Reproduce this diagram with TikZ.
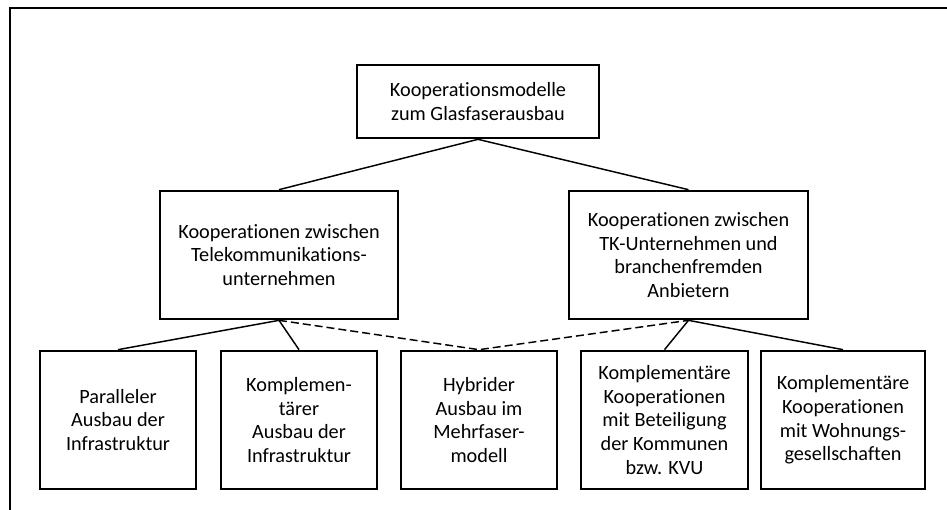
\documentclass[tikz,border=0pt]{standalone}
\usepackage{fontspec}
\setmainfont{Carlito}[Ligatures=NoCommon]
\tikzset{
  box/.style={draw, line width=2pt, inner sep=2pt, align=center, font=\fontsize{15.2}{17.8}\selectfont},
  link/.style={line width=1.1pt},
  dashlink/.style={line width=1.1pt, dash pattern=on 6pt off 3pt}
}
\begin{document}
\begin{tikzpicture}[x=0.75pt,y=0.75pt,yscale=-1,xscale=1]
\useasboundingbox (0,0) rectangle (947,510);

%Frame
\draw [line width=2.2pt]  (10,510) -- (10,8) -- (947,8) ;

% Text Node
\draw (478,101.5) node [box, minimum width=181.5pt, minimum height=54.75pt] (modelle) {Kooperationsmodelle\\zum Glasfaserausbau};
% Text Node
\draw (279,255) node [box, minimum width=178.5pt, minimum height=96pt] (tk) {Kooperationen zwischen\\Telekommunikations-\\unternehmen};
% Text Node
\draw (688.5,255) node [box, minimum width=179.25pt, minimum height=96pt] (fremd) {Kooperationen zwischen\\TK-Unternehmen und\\branchenfremden\\Anbietern};

% Text Node
\draw (118,420) node [box, minimum width=117pt, minimum height=103.5pt] (parallel) {Paralleler\\Ausbau der\\Infrastruktur};
% Text Node
\draw (299,420) node [box, minimum width=117pt, minimum height=103.5pt] (kompl) {Komplemen-\\tärer\\Ausbau der\\Infrastruktur};
% Text Node
\draw (479,420) node [box, minimum width=117pt, minimum height=103.5pt] (hybrid) {Hybrider\\Ausbau im\\Mehrfaser-\\modell};
% Text Node
\draw (664.5,420) node [box, minimum width=125.25pt, minimum height=103.5pt] (kommunen) {Komplementäre\\Kooperationen\\mit Beteiligung\\der Kommunen\\bzw. KVU};
% Text Node
\draw (843,420) node [box, minimum width=123pt, minimum height=103.5pt] (wohnung) {Komplementäre\\Kooperationen\\mit Wohnungs-\\gesellschaften};

%Straight Lines
\draw [link]  (modelle.south) -- (tk.north) ;
\draw [link]  (modelle.south) -- (fremd.north) ;
\draw [link]  (tk.south) -- (parallel.north) ;
\draw [link]  (tk.south) -- (kompl.north) ;
\draw [dashlink]  (tk.south) -- (hybrid.north) -- (fremd.south) ;
\draw [link]  (fremd.south) -- (kommunen.north) ;
\draw [link]  (fremd.south) -- (wohnung.north) ;
\end{tikzpicture}
\end{document}
